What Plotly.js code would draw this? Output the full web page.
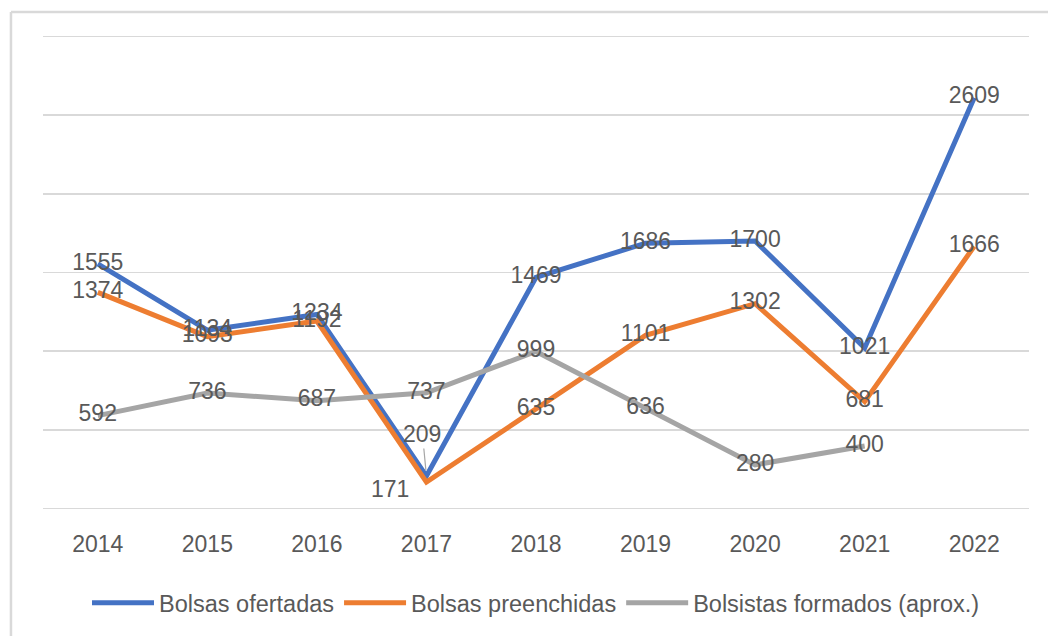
<!DOCTYPE html>
<html>
<head>
<meta charset="utf-8">
<script src="https://cdn.plot.ly/plotly-3.0.1.min.js"></script>
<style>
  html, body { margin: 0; padding: 0; background: #ffffff; }
  #chart { width: 1048px; height: 636px; }
</style>
</head>
<body>
<div id="chart"></div>
<script>
// ---- Data ----
const years = ['2014', '2015', '2016', '2017', '2018', '2019', '2020', '2021', '2022'];
const bolsasOfertadas = [1555, 1134, 1234, 209, 1469, 1686, 1700, 1021, 2609];
const bolsasPreenchidas = [1374, 1093, 1192, 171, 635, 1101, 1302, 681, 1666];
const bolsistasFormados = [592, 736, 687, 737, 999, 636, 280, 400, null];
const seriesNames = ['Bolsas ofertadas', 'Bolsas preenchidas', 'Bolsistas formados (aprox.)'];
const yMin = 0, yMax = 3000, yStep = 500;

// ---- Styles ----
const colors = ['#4472C4', '#ED7D31', '#A5A5A5'];
const FONT = 'Liberation Sans, Arial, sans-serif';
const TXT = '#595959';
const GRID = '#D9D9D9';
const SIZE = 23;

const allSeries = [bolsasOfertadas, bolsasPreenchidas, bolsistasFormados];

// labels handled separately (moved with leader line / offset), as in the original
const specialIdx = years.indexOf('2017');

const traces = [];
allSeries.forEach((vals, i) => {
  traces.push({
    type: 'scatter', mode: 'lines', name: seriesNames[i],
    x: years, y: vals,
    line: { color: colors[i], width: 5 },
    connectgaps: false, hoverinfo: 'skip'
  });
});
allSeries.forEach((vals, i) => {
  const txt = vals.map((v, k) => {
    if (v === null) return '';
    if (k === specialIdx && i < 2) return '';
    return String(v);
  });
  traces.push({
    type: 'scatter', mode: 'text', showlegend: false,
    x: years, y: vals, text: txt,
    textposition: 'middle center',
    textfont: { family: FONT, size: SIZE, color: TXT },
    hoverinfo: 'skip'
  });
});

const annotations = [
  {
    x: specialIdx, y: bolsasOfertadas[specialIdx], xref: 'x', yref: 'y',
    text: String(bolsasOfertadas[specialIdx]),
    showarrow: true, arrowhead: 0, arrowwidth: 1.2, arrowcolor: '#A6A6A6',
    ax: -4, ay: -42, standoff: 6,
    font: { family: FONT, size: SIZE, color: TXT }
  },
  {
    x: specialIdx, y: bolsasPreenchidas[specialIdx], xref: 'x', yref: 'y',
    text: String(bolsasPreenchidas[specialIdx]),
    showarrow: false, xshift: -36, yshift: -7,
    font: { family: FONT, size: SIZE, color: TXT }
  }
];

// gridlines at the ends of the value range (not drawn by the axis at its edges)
const edgeGrid = [yMin, yMax].map(v => ({
  type: 'line', xref: 'paper', yref: 'y', x0: 0, x1: 1, y0: v, y1: v,
  line: { color: GRID, width: 1.8 }, layer: 'below'
}));

const layout = {
  width: 1048, height: 636,
  margin: { l: 43, r: 19, t: 36, b: 126 },
  paper_bgcolor: '#ffffff', plot_bgcolor: '#ffffff',
  font: { family: FONT, size: SIZE, color: TXT },
  xaxis: {
    type: 'category', range: [-0.5, years.length - 0.5],
    showgrid: false, zeroline: false, showline: false,
    ticks: '', ticklabelstandoff: 19,
    tickfont: { family: FONT, size: SIZE, color: TXT },
    fixedrange: true
  },
  yaxis: {
    range: [yMin, yMax], dtick: yStep, tick0: yMin,
    showgrid: true, gridcolor: GRID, gridwidth: 1.8,
    zeroline: false, showline: false, showticklabels: false, ticks: '',
    fixedrange: true
  },
  showlegend: true,
  legend: {
    orientation: 'h', x: 0.5, xanchor: 'center', y: -0.196, yanchor: 'middle',
    font: { family: FONT, size: 23.5, color: TXT },
    itemwidth: 62, tracegroupgap: 0
  },
  annotations: annotations,
  shapes: edgeGrid.concat([
    { type: 'line', xref: 'paper', yref: 'paper', x0: -0.0325, x1: -0.0325, y0: 1.0506, y1: -0.3,
      line: { color: GRID, width: 2.5 }, layer: 'below' },
    { type: 'line', xref: 'paper', yref: 'paper', x0: -0.0325, x1: 1.03, y0: 1.0506, y1: 1.0506,
      line: { color: GRID, width: 2.5 }, layer: 'below' }
  ])
};

Plotly.newPlot('chart', traces, layout, { displayModeBar: false, staticPlot: true });
</script>
</body>
</html>
